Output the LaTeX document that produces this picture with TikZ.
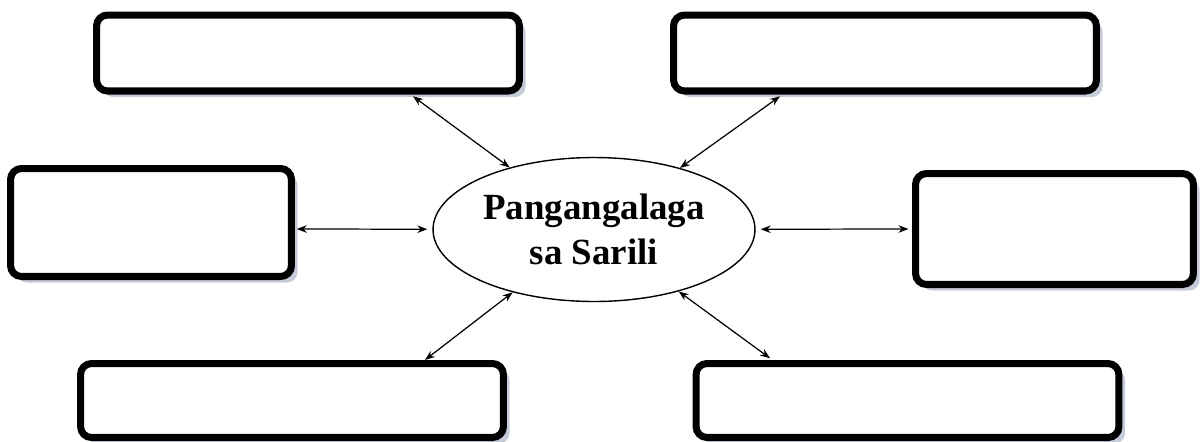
\documentclass[tikz,border=0pt]{standalone}
\usepackage{fontspec}
\setmainfont{Liberation Serif}
\usepackage{tikz}
\usetikzlibrary{calc,arrows.meta,shapes.geometric,shadows}
\definecolor{shadowgray}{RGB}{150,160,185}
\tikzset{
	box/.style={draw=black, line width=4pt, fill=white, rounded corners=0.22cm, inner sep=0pt,
		drop shadow={shadow xshift=3.5pt, shadow yshift=-3.5pt, fill=shadowgray, opacity=0.55}},
	wide/.style={box, minimum width=8.46cm, minimum height=1.52cm},
	side/.style={box, minimum width=5.6cm, minimum height=2.2cm},
	hub/.style={draw=black, ellipse, line width=0.8pt, fill=white, inner sep=0pt,
		minimum width=6.44cm, minimum height=2.88cm, align=center,
		font=\fontsize{21}{25.5}\selectfont\bfseries},
	link/.style={{Stealth[length=2mm,width=1.5mm]}-{Stealth[length=2mm,width=1.5mm]}, line width=0.7pt}
}

\begin{document}
\begin{tikzpicture}[x=0.02cm, y=-0.02cm]
		%%%%% START %%%%%
		
		\useasboundingbox (0, 0) rectangle (1201, 441);
		
		\node[hub] (ell) at (594, 229.5) {Pangangalaga\\sa Sarili};
		
		\node[wide] (tl) at (308, 53) {};
		\node[wide] (tr) at (885, 53) {};
		\node[side, minimum width=5.62cm, minimum height=2.16cm] (ml) at (151, 222.5) {};
		\node[side, minimum width=5.56cm, minimum height=2.22cm] (mr) at (1054.5, 229) {};
		\node[wide, minimum height=1.48cm] (bl) at (292, 400.5) {};
		\node[wide, minimum height=1.48cm] (br) at (907.5, 400.5) {};
		
		\draw[link] ([xshift=2.1cm, yshift=-1pt]tl.south) -- (ell);
		\draw[link] ([xshift=-2.1cm, yshift=-1pt]tr.south) -- (ell);
		\draw[link, shorten >=0.1cm] ([xshift=1pt, yshift=-0.13cm]ml.east) -- (ell);
		\draw[link, shorten >=0.1cm] ([xshift=-2pt]mr.west) -- (ell);
		\draw[link] ([xshift=2.66cm]bl.north) -- (ell);
		\draw[link] ([xshift=-2.75cm, yshift=1pt]br.north) -- (ell);
		
		%%%%% END %%%%%
	\end{tikzpicture}
\end{document}
